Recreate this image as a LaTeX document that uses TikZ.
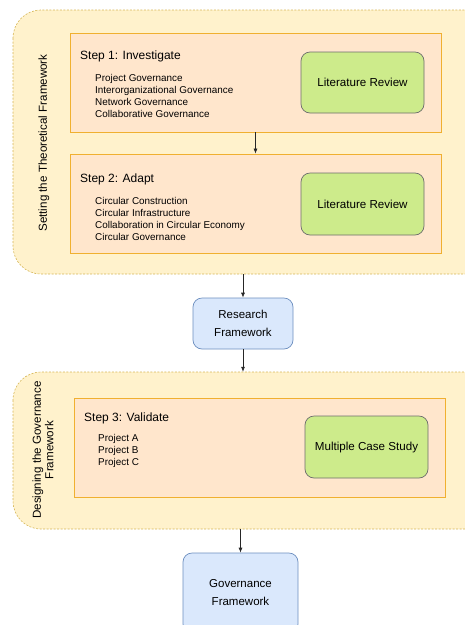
\documentclass[tikz,border=0pt]{standalone}
\usepackage{fontspec}
\setmainfont{Liberation Sans}
\usetikzlibrary{arrows.meta}
\definecolor{outfill}{HTML}{FFF2CC}
\definecolor{outdraw}{HTML}{D6B656}
\definecolor{stepfill}{HTML}{FFE6CC}
\definecolor{stepdraw}{HTML}{F0B030}
\definecolor{greenfill}{HTML}{CDEB8B}
\definecolor{greendraw}{HTML}{6D6D6D}
\definecolor{bluefill}{HTML}{DAE8FC}
\definecolor{bluedraw}{HTML}{6C8EBF}
\begin{document}
\begin{tikzpicture}[x=1pt,y=-1pt,
  outerbox/.style={draw=outdraw, fill=outfill, dashed, dash pattern=on 2pt off 1.5pt, rounded corners=28pt, line width=0.6pt},
  stepbox/.style={draw=stepdraw, fill=stepfill, line width=0.8pt},
  greenbox/.style={draw=greendraw, fill=greenfill, rounded corners=9pt, line width=0.7pt, font=\fontsize{11.6}{13}\selectfont},
  bluebox/.style={draw=bluedraw, fill=bluefill, rounded corners=9pt, line width=0.7pt, align=center, font=\fontsize{11.5}{18}\selectfont},
  title/.style={anchor=west, inner sep=0pt, font=\fontsize{12}{13}\selectfont},
  items/.style={anchor=north west, inner sep=0pt, align=left, font=\fontsize{9.9}{11.8}\selectfont},
  side/.style={rotate=90, align=center, inner sep=0pt, font=\fontsize{11.6}{12.5}\selectfont},
  arr/.style={-{Latex[length=5pt,width=4pt]}, line width=0.7pt, draw=black!85}]
\useasboundingbox (0,0) rectangle (465,625);
\clip (0,0) rectangle (465,625);
% outer containers
\path[outerbox] (13,10) rectangle (495,274);
\node[inner sep=0pt, minimum width=482pt, minimum height=264pt] (outer1) at (254,142) {};
\path[outerbox] (13,372) rectangle (495,529);
\node[inner sep=0pt, minimum width=482pt, minimum height=157pt] (outer2) at (254,450.5) {};
\node[side] (lab1) at (44,143) {Setting the Theoretical Framework};
\node[side] (lab2) at (43,450) {Designing the Governance\\Framework};
% step boxes
\node[stepbox, minimum width=371pt, minimum height=99pt, inner sep=0pt] (s1) at (255.5,82.5) {};
\node[stepbox, minimum width=371pt, minimum height=99pt, inner sep=0pt] (s2) at (255.5,203.5) {};
\node[stepbox, minimum width=371pt, minimum height=99pt, inner sep=0pt] (s3) at (259.5,447.5) {};
\node[title] (t1) at (80,56) {Step 1: Investigate};
\node[items] (i1) at (95,74.5) {Project Governance\\Interorganizational Governance\\Network Governance\\Collaborative Governance};
\node[title] (t2) at (80,179) {Step 2: Adapt};
\node[items] (i2) at (95,197.5) {Circular Construction\\Circular Infrastructure\\Collaboration in Circular Economy\\Circular Governance};
\node[title] (t3) at (84,418) {Step 3: Validate};
\node[items, font=\fontsize{9.9}{12}\selectfont] (i3) at (98,434.5) {Project A\\Project B\\Project C};
% green boxes
\node[greenbox, minimum width=123pt, minimum height=61pt] (g1) at (362.5,82.5) {Literature Review};
\node[greenbox, minimum width=123pt, minimum height=62pt] (g2) at (362.5,204) {Literature Review};
\node[greenbox, minimum width=123pt, minimum height=62pt] (g3) at (366.5,447) {Multiple Case Study};
% blue boxes
\node[bluebox, minimum width=100pt, minimum height=51pt] (rf) at (243,323.5) {Research\\Framework};
\node[bluebox, minimum width=115pt, minimum height=80pt] (gf) at (240.5,593) {Governance\\Framework};
% arrows
\draw[arr] (s1.south) -- (s2.north);
\draw[arr] (rf.north |- outer1.south) -- (rf.north);
\draw[arr] (rf.south) -- (rf.south |- outer2.north);
\draw[arr] (gf.north |- outer2.south) -- (gf.north);
\end{tikzpicture}
\end{document}
